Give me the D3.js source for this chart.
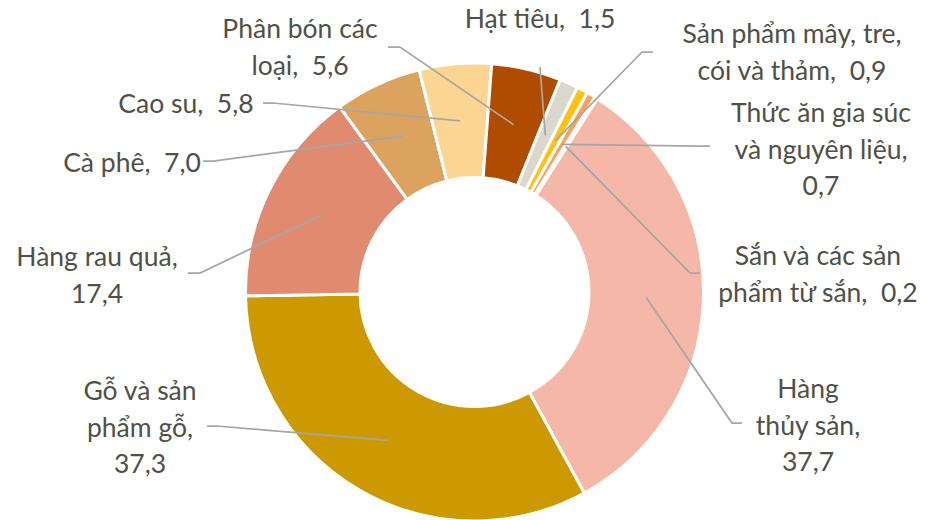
<!DOCTYPE html>
<html>
<head>
<meta charset="utf-8">
<script src="https://cdn.jsdelivr.net/npm/d3@7"></script>
<style>
  body { margin: 0; background: #fff; }
  svg { display: block; }
  .lbl { font-family: Lato, "Open Sans", sans-serif; font-size: 26.5px; fill: #505046; white-space: pre; }
</style>
</head>
<body>
<div id="chart"></div>
<script>
// categories, clockwise, in data order
var categories = ['Hàng thủy sản', 'Gỗ và sản phẩm gỗ', 'Hàng rau quả', 'Cà phê', 'Cao su',
  'Phân bón các loại', 'Hạt tiêu', 'Sản phẩm mây, tre, cói và thảm',
  'Thức ăn gia súc và nguyên liệu', 'Sắn và các sản phẩm từ sắn'];
var values = [37.7, 37.3, 17.4, 7.0, 5.8, 5.6, 1.5, 0.9, 0.7, 0.2];

// how each label is broken into lines; valueOwnLine puts the number on its own line
var labelRows = [['Hàng', 'thủy sản,'], ['Gỗ và sản', 'phẩm gỗ,'], ['Hàng rau quả,'], ['Cà phê,'], ['Cao su,'],
  ['Phân bón các', 'loại,'], ['Hạt tiêu,'], ['Sản phẩm mây, tre,', 'cói và thảm,'],
  ['Thức ăn gia súc', 'và nguyên liệu,'], ['Sắn và các sản', 'phẩm từ sắn,']];
var valueOwnLine = [true, true, true, false, false, false, false, false, true, false];

var colors = ['#F5B7A7', '#CC9A00', '#E08A6F', '#DCA35F', '#FDD593', '#B04C00', '#DAD8CD', '#FFC20E', '#F9A15E', '#F8C8AC'];

// label placement: centre x, first baseline
var labelPos = [[808, 398], [140, 400], [97, 266], [132, 172], [186, 113],
  [300, 38], [540, 28], [792, 43], [821, 122], [818, 265]];
// leader line: start point near label, then bend point; it ends at the slice centroid
var leaderPos = [[[742, 423], [732, 423]], [[207, 426], [217, 426]], [[188, 273], [200, 273]],
  [[203, 161], [213, 161]], [[263, 103], [273, 103]], [[388, 47], [400, 47]],
  [[540, 67], [540, 67]], [[653, 52], [642, 52]], [[710, 146], [700, 146]], [[700, 273], [690, 273]]];

var graph = { width: 926, height: 520, cx: 474.5, cy: 292, outer: 229, inner: 114.5, start: 32.4 };

var svg = d3.select('#chart').append('svg')
  .attr('width', graph.width)
  .attr('height', graph.height);

var pie = d3.pie()
  .sort(null)
  .value(function(d) { return d; })
  .startAngle(graph.start * Math.PI / 180)
  .endAngle(graph.start * Math.PI / 180 + 2 * Math.PI);

var arc = d3.arc()
  .innerRadius(graph.inner)
  .outerRadius(graph.outer);

var arcs = pie(values);

var chartG = svg.append('g')
  .attr('transform', 'translate(' + graph.cx + ',' + graph.cy + ')');

chartG.selectAll('path.slice')
  .data(arcs)
  .enter().append('path')
  .attr('class', 'slice')
  .attr('d', arc)
  .attr('fill', function(d, i) { return colors[i]; })
  .attr('stroke', '#fff')
  .attr('stroke-width', 3)
  .attr('stroke-linejoin', 'round');

// leader lines
var line = d3.line();
svg.append('g').selectAll('path')
  .data(arcs)
  .enter().append('path')
  .attr('d', function(d, i) {
    var c = arc.centroid(d);
    return line([leaderPos[i][0], leaderPos[i][1], [c[0] + graph.cx, c[1] + graph.cy]]);
  })
  .attr('fill', 'none')
  .attr('stroke', '#A6A6A6')
  .attr('stroke-width', 1.75);

var fmt = function(v) { return d3.format('.1f')(v).replace('.', ','); };

// labels
var labelG = svg.append('g');
values.forEach(function(v, i) {
  var rows = labelRows[i].slice();
  if (valueOwnLine[i]) {
    rows.push(fmt(v));
  } else {
    rows[rows.length - 1] = rows[rows.length - 1] + '  ' + fmt(v);
  }
  var t = labelG.append('text')
    .attr('class', 'lbl')
    .attr('text-anchor', 'middle')
    .attr('x', labelPos[i][0])
    .attr('y', labelPos[i][1]);
  rows.forEach(function(r, k) {
    t.append('tspan')
      .attr('x', labelPos[i][0])
      .attr('y', labelPos[i][1] + k * 36.5)
      .text(r);
  });
});
</script>
</body>
</html>
